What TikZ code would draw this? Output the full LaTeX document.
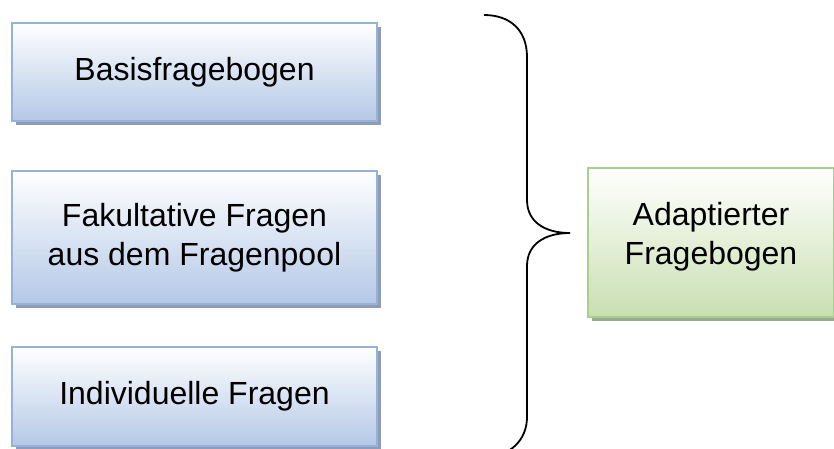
\documentclass[tikz,border=0pt]{standalone}
\usepackage{fontspec}
\setmainfont{Liberation Sans}
\usetikzlibrary{positioning, shadows}
\definecolor{boxline}{HTML}{95B3D7}
\definecolor{boxfill}{HTML}{B4C8E6}
\definecolor{shadowblue}{HTML}{8E9CB8}
\definecolor{greenline}{HTML}{A8D08D}
\definecolor{greenfill}{HTML}{C9DFB1}
\definecolor{shadowgreen}{HTML}{9CAA92}

\begin{document}
\begin{tikzpicture}[x=1pt, y=-1pt]
      \tikzset{node distance=50pt, every node/.style={font=\fontsize{32}{38.5}\selectfont, inner sep=0pt, outer sep=0pt, align=center},
        qbox/.style={draw=boxline, line width=1.5pt, top color=white, bottom color=boxfill, minimum width=365pt, drop shadow={shadow xshift=4pt, shadow yshift=-4pt, fill=shadowblue, opacity=1}},
        resbox/.style={draw=greenline, line width=1.5pt, top color=white, bottom color=greenfill, minimum width=246pt, minimum height=149pt, text depth=18pt, drop shadow={shadow xshift=4pt, shadow yshift=-4pt, fill=shadowgreen, opacity=1}},
        brace/.style={draw, line width=1.8pt}}
      \useasboundingbox (0,0) rectangle (834,448);
      \node[qbox, minimum height=98pt] (basis) at (194.5,72) {Basisfragebogen};
      \node[qbox, minimum height=133pt, below=50pt of basis] (fakult) {Fakultative Fragen\\aus dem Fragenpool};
      \node[qbox, minimum height=99pt, below=43pt of fakult] (indiv) {Individuelle Fragen};
      \node[resbox] (adapt) at (711,242.5) {Adaptierter\\Fragebogen};
      \coordinate (tip) at (570,233);
      \draw[brace] (484,15) .. controls (510,15) and (527,30) .. (527,57) -- (527,200) .. controls (527,222) and (545,233) .. (tip) .. controls (545,233) and (527,244) .. (527,266) -- (527,417) .. controls (527,440) and (510,457) .. (484,457);
    \end{tikzpicture}
\end{document}
